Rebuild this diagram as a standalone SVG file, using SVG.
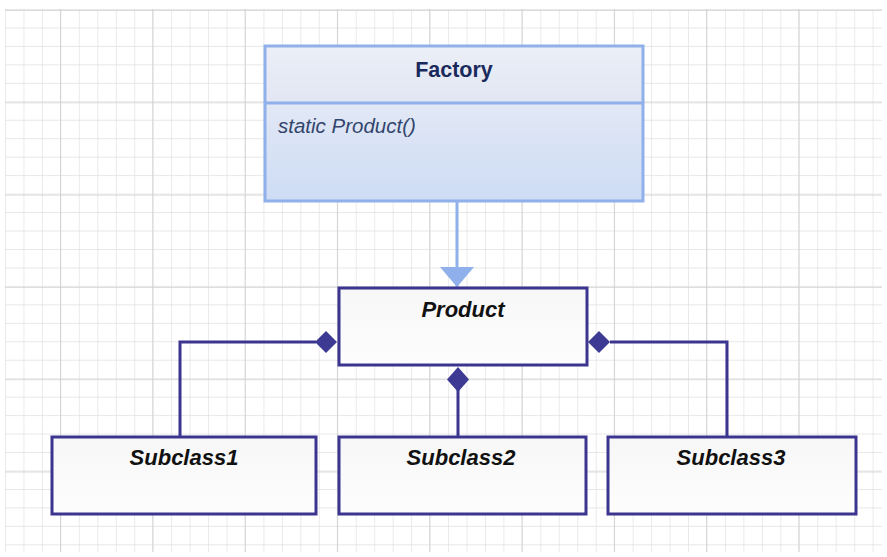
<svg xmlns="http://www.w3.org/2000/svg" width="887" height="557" viewBox="0 0 887 557">
<defs>
<pattern id="minor" x="5" y="9" width="18.46" height="18.46" patternUnits="userSpaceOnUse">
<path d="M0 0H18.46M0 0V18.46" fill="none" stroke="#e0e0e0" stroke-width="1.3"/>
</pattern>
<pattern id="major" x="60" y="10" width="92.3" height="92.3" patternUnits="userSpaceOnUse">
<path d="M0 0H92.3M0 0V92.3" fill="none" stroke="#cfcfcf" stroke-width="1.7"/>
</pattern>
<linearGradient id="fhead" x1="0" y1="0" x2="0" y2="1">
<stop offset="0" stop-color="#eceff7"/>
<stop offset="1" stop-color="#e1e6f3"/>
</linearGradient>
<linearGradient id="fbody" x1="0" y1="0" x2="0" y2="1">
<stop offset="0" stop-color="#e2e8f5"/>
<stop offset="1" stop-color="#cddcf5"/>
</linearGradient>
<linearGradient id="wbox" x1="0" y1="0" x2="0" y2="1">
<stop offset="0" stop-color="#f7f7f7"/>
<stop offset="1" stop-color="#fdfdfd"/>
</linearGradient>
<marker id="tri" viewBox="0 0 20 34" refX="20" refY="17" markerWidth="20" markerHeight="34" markerUnits="userSpaceOnUse" orient="auto">
<path d="M0 0L20 17L0 34Z" fill="#8fb0ea"/>
</marker>
</defs>
<style>
.uml{fill:url(#wbox);stroke:#3b3590;stroke-width:3}
.conn{fill:none;stroke:#3b3590;stroke-width:3}
.dia{fill:#3d3a94}
.title{font-family:"Liberation Sans",Arial,sans-serif;font-weight:bold;font-style:italic;font-size:22px;fill:#111;text-anchor:middle}
</style>
<rect width="887" height="557" fill="#ffffff"/>
<rect x="5" y="9" width="877" height="543" fill="url(#minor)"/>
<rect x="5" y="9" width="877" height="543" fill="url(#major)"/>

<g id="connectors">
<line x1="457" y1="201" x2="457" y2="287" stroke="#8fb0ea" stroke-width="3" marker-end="url(#tri)"/>
<polyline class="conn" points="316,342 180,342 180,437"/>
<polyline class="conn" points="610,342 727,342 727,437"/>
<line class="conn" x1="458" y1="390" x2="458" y2="437"/>
<path class="dia" d="M315 342L326 331L337 342L326 353Z"/>
<path class="dia" d="M588 342L599 331L610 342L599 353Z"/>
<path class="dia" d="M458 367L469 379.5L458 392L447 379.5Z"/>
</g>

<g id="factory">
<rect x="265" y="46" width="378" height="57" fill="url(#fhead)"/>
<rect x="265" y="103" width="378" height="98" fill="url(#fbody)"/>
<rect x="265" y="46" width="378" height="155" fill="none" stroke="#8fb0ea" stroke-width="3"/>
<line x1="265" y1="103" x2="643" y2="103" stroke="#8fb0ea" stroke-width="3"/>
<text x="454" y="77" font-family="Liberation Sans, Arial, sans-serif" font-weight="bold" font-size="21.5" fill="#1a2a5c" text-anchor="middle">Factory</text>
<text x="278" y="133" font-family="Liberation Sans, Arial, sans-serif" font-style="italic" font-size="20.5" fill="#33456d">static Product()</text>
</g>

<g id="product">
<rect class="uml" x="339" y="288" width="248" height="77"/>
<text class="title" x="463" y="317">Product</text>
</g>

<g id="subclass1">
<rect class="uml" x="52" y="437" width="264" height="77"/>
<text class="title" x="184" y="465">Subclass1</text>
</g>

<g id="subclass2">
<rect class="uml" x="339" y="437" width="247" height="77"/>
<text class="title" x="461" y="465">Subclass2</text>
</g>

<g id="subclass3">
<rect class="uml" x="608" y="437" width="248" height="77"/>
<text class="title" x="731" y="465">Subclass3</text>
</g>
</svg>
